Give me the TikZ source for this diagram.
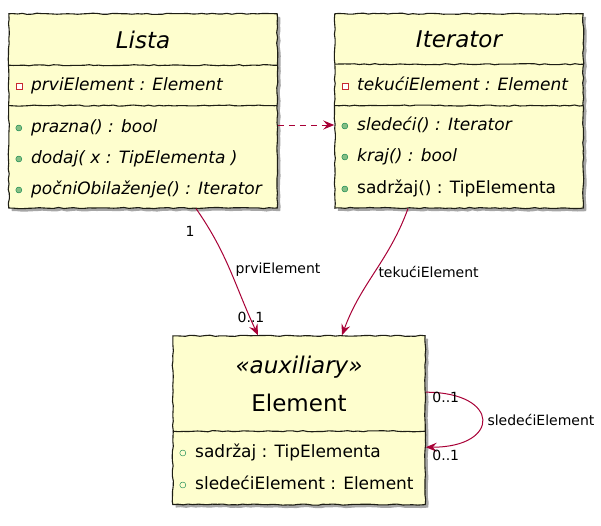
\documentclass[tikz,border=0pt]{standalone}
\usepackage{fontspec}
\setmainfont{DejaVu Sans}
\usetikzlibrary{positioning, fit, backgrounds, shadows, arrows.meta, decorations.pathmorphing}

\definecolor{classbg}{HTML}{FEFECE}
\definecolor{classborder}{HTML}{1E1E14}
\definecolor{assoccol}{HTML}{A80036}
\definecolor{privcol}{HTML}{C82930}
\definecolor{pubfill}{HTML}{84BE84}
\definecolor{pubcol}{HTML}{038048}

\begin{document}
\begin{tikzpicture}[
    x=1pt, y=-1pt,
    hand/.style={decorate, decoration={random steps, segment length=5pt, amplitude=0.6pt}},
    class_box/.style={rectangle, hand, draw=classborder, line width=1.1pt, fill=classbg, inner sep=0pt,
        drop shadow={shadow xshift=3pt, shadow yshift=-3pt, opacity=0.35, fill=black}},
    class_title/.style={rectangle, align=center, inner sep=0pt, font=\fontsize{23}{28}\selectfont},
    compartment/.style={rectangle, inner sep=0pt},
    sep_line/.style={hand, draw=classborder, line width=1.1pt},
    member/.style={anchor=west, inner sep=0pt, text height=13pt, text depth=4pt, font=\fontsize{17}{20}\selectfont},
    icon/.style={thin, minimum size=6pt, inner sep=0pt, xshift=-9pt},
    attr_priv/.style={member, label={[icon, rectangle, draw=privcol, fill=white]left:{}}},
    attr_pub/.style={member, label={[icon, circle, draw=pubcol]left:{}}},
    op_pub/.style={member, label={[icon, circle, draw=pubcol, fill=pubfill]left:{}}},
    assoc/.style={draw=assoccol, line width=1pt, -{Stealth[length=11pt, width=9pt, inset=4pt]}},
    edge_label/.style={inner sep=1pt, font=\fontsize{14}{16}\selectfont},
    mult/.style={edge_label},
]
    \useasboundingbox (0, 0) rectangle (601, 525);

    \node(lista_title)[class_title, minimum width=268pt, minimum height=51pt] at (143, 39.5) {\itshape Lista};
    \node(lista_attr)[compartment, minimum width=268pt, minimum height=40pt, below=0pt of lista_title] {};
    \node(lista_ops)[compartment, minimum width=268pt, minimum height=102pt, below=0pt of lista_attr] {};
    \node(prvi)[attr_priv] at (31, 86) {\itshape prviElement : Element};
    \node(prazna)[op_pub] at (31, 128) {\itshape prazna() : bool};
    \node(dodaj)[op_pub] at (31, 159) {\itshape dodaj( x : TipElementa )};
    \node(pocni)[op_pub] at (31, 190) {\itshape počniObilaženje() : Iterator};

    \node(iter_title)[class_title, minimum width=248pt, minimum height=50pt] at (459, 39) {\itshape Iterator};
    \node(iter_attr)[compartment, minimum width=248pt, minimum height=41pt, below=0pt of iter_title] {};
    \node(iter_ops)[compartment, minimum width=248pt, minimum height=102pt, below=0pt of iter_attr] {};
    \node(tekuci)[attr_priv] at (357, 86) {\itshape tekućiElement : Element};
    \node(sledeci)[op_pub] at (357, 126) {\itshape sledeći() : Iterator};
    \node(kraj)[op_pub] at (357, 157) {\itshape kraj() : bool};
    \node(sadrzaj_op)[op_pub] at (357, 189) {sadržaj() : TipElementa};

    \node(elem_head)[class_title, minimum width=252pt, minimum height=95pt] at (299, 383.5) {\itshape «auxiliary»\\[10pt]Element};
    \node(elem_attrs)[compartment, minimum width=252pt, minimum height=73pt, below=0pt of elem_head] {};
    \node(sadrzaj)[attr_pub] at (195, 453) {sadržaj : TipElementa};
    \node(sled_elem)[attr_pub] at (195, 485) {sledećiElement : Element};

    \begin{scope}[on background layer]
        \node(lista)[class_box, fit={(lista_title) (lista_attr) (lista_ops)}] {};
        \node(iterator)[class_box, fit={(iter_title) (iter_attr) (iter_ops)}] {};
        \node(element)[class_box, fit={(elem_head) (elem_attrs)}] {};
    \end{scope}

    \draw[sep_line] (lista_attr.north west) -- (lista_attr.north east);
    \draw[sep_line] (lista_ops.north west) -- (lista_ops.north east);
    \draw[sep_line] (iter_attr.north west) -- (iter_attr.north east);
    \draw[sep_line] (iter_ops.north west) -- (iter_ops.north east);
    \draw[sep_line] (elem_attrs.north west) -- (elem_attrs.north east);

    \draw[assoc, dash pattern=on 6pt off 5pt] ([yshift=3pt]lista.east |- prazna.west) -- ([yshift=3pt]iterator.west |- prazna.west);
    \draw[assoc] ([xshift=53pt]lista.south) to[out=-55, in=115]
        node[mult, pos=0, xshift=-6pt, yshift=-23pt] {1}
        node[edge_label, pos=0.5, right=4pt] {prviElement}
        node[mult, pos=1, xshift=-7pt, yshift=18pt] {0..1}
        ([xshift=-41pt]element.north);
    \draw[assoc] ([xshift=-51pt]iterator.south) to[out=-110, in=70]
        node[edge_label, pos=0.5, right=2pt] {tekućiElement}
        ([xshift=43pt]element.north);
    \draw[assoc] ([yshift=28pt]element.east) to[out=0, in=0, looseness=3.5]
        node[mult, pos=0, xshift=20pt, yshift=-5pt] {0..1}
        node[edge_label, pos=0.5, right=4pt] {sledećiElement}
        node[mult, pos=1, xshift=20pt, yshift=-8pt] {0..1}
        ([yshift=-27pt]element.east);
\end{tikzpicture}
\end{document}
